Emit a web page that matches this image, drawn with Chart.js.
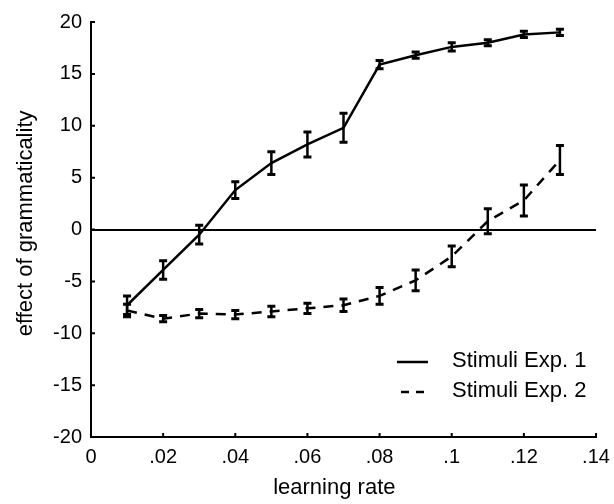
<!DOCTYPE html>
<html>
<head>
<meta charset="utf-8">
<script src="https://cdn.jsdelivr.net/npm/chart.js@4.4.1/dist/chart.umd.min.js"></script>
<style>
  html, body { margin: 0; padding: 0; background: #fff; }
  #wrap { width: 614px; height: 504px; }
</style>
</head>
<body>
<div id="wrap"><canvas id="chart" width="614" height="504"></canvas></div>
<script>
const rates = [0.01, 0.02, 0.03, 0.04, 0.05, 0.06, 0.07, 0.08, 0.09, 0.10, 0.11, 0.12, 0.13];
const exp1Values = [-7.3, -3.9, -0.5, 3.8, 6.4, 8.2, 9.8, 15.9, 16.8, 17.6, 18.0, 18.8, 19.0];
const exp1Errors = [0.9, 0.9, 0.9, 0.8, 1.1, 1.2, 1.4, 0.4, 0.3, 0.4, 0.3, 0.3, 0.3];
const exp2Values = [-7.8, -8.6, -8.1, -8.2, -7.9, -7.6, -7.3, -6.4, -4.9, -2.6, 0.8, 2.8, 6.7];
const exp2Errors = [0.6, 0.3, 0.4, 0.4, 0.5, 0.5, 0.6, 0.8, 1.0, 1.0, 1.2, 1.5, 1.4];
const xTicks = [0, 0.02, 0.04, 0.06, 0.08, 0.10, 0.12, 0.14];
const yTicks = [-20, -15, -10, -5, 0, 5, 10, 15, 20];
const seriesNames = ["Stimuli Exp. 1", "Stimuli Exp. 2"];

const FONT = "'Liberation Sans', Arial, sans-serif";

function toPoints(values) {
    return rates.map(function (r, i) { return { x: r, y: values[i] }; });
}

function xLabel(v) {
    if (Math.abs(v) < 1e-9) return "0";
    let s = String(Math.round(v * 100) / 100);
    return s.replace(/^0/, "");
}

// error bars, inward tick marks and the legend
const extras = {
    id: "extras",
    afterDatasetsDraw(chart) {
        const ctx = chart.ctx;
        const xs = chart.scales.x;
        const ys = chart.scales.y;
        const area = chart.chartArea;
        ctx.save();
        ctx.strokeStyle = "#000";
        ctx.lineCap = "butt";

        const sets = [[exp1Values, exp1Errors], [exp2Values, exp2Errors]];
        sets.forEach(function (s) {
            const vals = s[0], errs = s[1];
            for (let i = 0; i < rates.length; i++) {
                const px = xs.getPixelForValue(rates[i]);
                const top = ys.getPixelForValue(vals[i] + errs[i]);
                const bot = ys.getPixelForValue(vals[i] - errs[i]);
                ctx.lineWidth = 2.5;
                ctx.beginPath();
                ctx.moveTo(px, top);
                ctx.lineTo(px, bot);
                ctx.stroke();
                ctx.lineWidth = 3;
                ctx.beginPath();
                ctx.moveTo(px - 4, top);
                ctx.lineTo(px + 4, top);
                ctx.moveTo(px - 4, bot);
                ctx.lineTo(px + 4, bot);
                ctx.stroke();
            }
        });

        // inward ticks
        ctx.lineWidth = 2;
        ctx.beginPath();
        yTicks.forEach(function (v) {
            const py = ys.getPixelForValue(v);
            ctx.moveTo(area.left, py);
            ctx.lineTo(area.left + 4, py);
        });
        xTicks.forEach(function (v) {
            const px = xs.getPixelForValue(v);
            ctx.moveTo(px, area.bottom);
            ctx.lineTo(px, area.bottom - 4);
        });
        ctx.stroke();

        // legend
        ctx.font = "22px " + FONT;
        ctx.fillStyle = "#000";
        ctx.textBaseline = "middle";
        ctx.textAlign = "left";
        ctx.lineWidth = 2.5;
        ctx.beginPath();
        ctx.moveTo(397, 362);
        ctx.lineTo(428, 362);
        ctx.stroke();
        ctx.setLineDash([8, 7]);
        ctx.beginPath();
        ctx.moveTo(401, 392);
        ctx.lineTo(428, 392);
        ctx.stroke();
        ctx.setLineDash([]);
        ctx.fillText(seriesNames[0], 452, 361);
        ctx.fillText(seriesNames[1], 452, 391);
        ctx.restore();
    }
};

new Chart(document.getElementById("chart").getContext("2d"), {
    type: "line",
    data: {
        datasets: [{
            label: seriesNames[0],
            data: toPoints(exp1Values),
            borderColor: "#000",
            borderWidth: 2.5,
            pointRadius: 0,
            tension: 0,
            fill: false
        }, {
            label: seriesNames[1],
            data: toPoints(exp2Values),
            borderColor: "#000",
            borderWidth: 2.5,
            borderDash: [10, 8],
            pointRadius: 0,
            tension: 0,
            fill: false
        }]
    },
    options: {
        responsive: false,
        animation: false,
        layout: { padding: { left: 0, right: 18, top: 22, bottom: 0 } },
        plugins: {
            legend: { display: false },
            tooltip: { enabled: false }
        },
        scales: {
            x: {
                type: "linear",
                min: 0,
                max: 0.14,
                afterBuildTicks: function (scale) {
                    scale.ticks = xTicks.map(function (v) { return { value: v }; });
                },
                afterFit: function (scale) {
                    scale.height = 67;
                    scale.paddingLeft = 0;
                    scale.paddingRight = 0;
                },
                ticks: {
                    callback: function (v) { return xLabel(v); },
                    color: "#000",
                    font: { family: FONT, size: 20 },
                    padding: 8,
                    maxRotation: 0
                },
                grid: { display: false, drawTicks: false },
                border: { display: true, color: "#000", width: 2 },
                title: {
                    display: true,
                    text: "learning rate   ",
                    color: "#000",
                    font: { family: FONT, size: 22 },
                    padding: { top: 4, bottom: 3 }
                }
            },
            y: {
                min: -20,
                max: 20,
                afterBuildTicks: function (scale) {
                    scale.ticks = yTicks.map(function (v) { return { value: v }; });
                },
                afterFit: function (scale) { scale.width = 91; },
                ticks: {
                    color: "#000",
                    font: { family: FONT, size: 20 },
                    padding: 9
                },
                grid: {
                    drawTicks: false,
                    lineWidth: 2,
                    color: function (c) { return c.tick && c.tick.value === 0 ? "#000" : "rgba(0,0,0,0)"; }
                },
                border: { display: true, color: "#000", width: 2 },
                title: {
                    display: true,
                    text: "  effect of grammaticality",
                    color: "#000",
                    font: { family: FONT, size: 22 },
                    padding: { top: 13, bottom: 4 }
                }
            }
        }
    },
    plugins: [extras]
});
</script>
</body>
</html>
